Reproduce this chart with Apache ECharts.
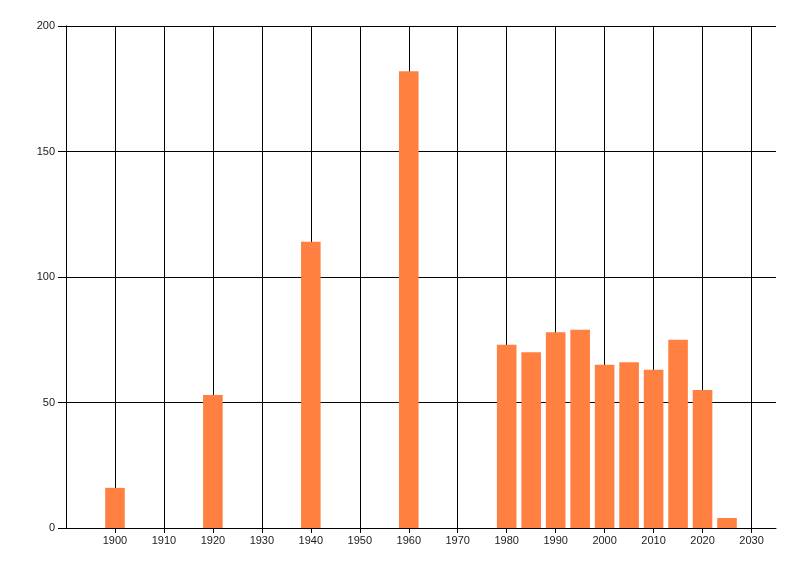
<!DOCTYPE html>
<html>
<head>
<meta charset="utf-8">
<script src="https://cdn.jsdelivr.net/npm/echarts@6/dist/echarts.min.js"></script>
<style>
html,body{margin:0;padding:0;background:#fff;}
#chart{width:800px;height:576px;}
</style>
</head>
<body>
<div id="chart"></div>
<script>
var years = [1900, 1920, 1940, 1960, 1980, 1985, 1990, 1995, 2000, 2005, 2010, 2015, 2020, 2025];
var values = [16, 53, 114, 182, 73, 70, 78, 79, 65, 66, 63, 75, 55, 4];
var xTickValues = [1900, 1910, 1920, 1930, 1940, 1950, 1960, 1970, 1980, 1990, 2000, 2010, 2020, 2030];

var chart = echarts.init(document.getElementById('chart'), null, {renderer: 'canvas'});
var font = '"Liberation Sans", Arial, sans-serif';
chart.setOption({
  animation: false,
  backgroundColor: '#ffffff',
  grid: {left: 66, right: 24, top: 26, bottom: 48, containLabel: false},
  xAxis: {
    type: 'value',
    min: 1890,
    max: 2035,
    interval: 10,
    axisLine: {show: true, lineStyle: {color: '#000', width: 1}},
    axisTick: {show: true, length: 5, customValues: xTickValues, lineStyle: {color: '#000'}},
    axisLabel: {
      color: '#1a1a1a', fontSize: 11, fontFamily: font, margin: 7,
      customValues: xTickValues,
      formatter: function (v) { return String(v); }
    },
    splitLine: {show: true, lineStyle: {color: '#000', width: 1}}
  },
  yAxis: {
    type: 'value',
    min: 0,
    max: 200,
    interval: 50,
    axisLine: {show: true, lineStyle: {color: '#000', width: 1}},
    axisTick: {show: true, length: 8, lineStyle: {color: '#000'}},
    axisLabel: {color: '#1a1a1a', fontSize: 11, fontFamily: font, margin: 11},
    splitLine: {show: true, lineStyle: {color: '#000', width: 1}}
  },
  series: [{
    type: 'bar',
    data: years.map(function (y, i) { return [y, values[i]]; }),
    barWidth: 19.6,
    itemStyle: {color: '#FF8040'},
    z: 1
  }]
});
</script>
</body>
</html>
